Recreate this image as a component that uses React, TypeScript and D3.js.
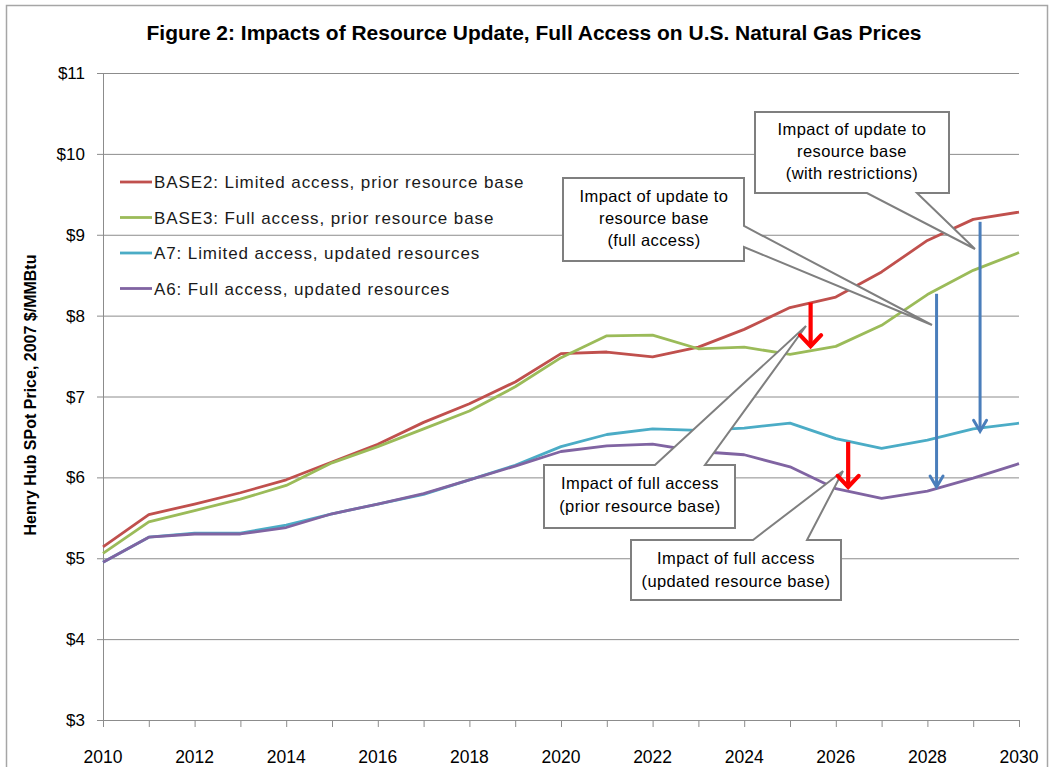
import * as d3 from 'd3';

// --- Data ---
const years = d3.range(2010, 2031);

const base2 = [5.14, 5.54, 5.67, 5.81, 5.97, 6.19, 6.41, 6.68, 6.91, 7.18, 7.53,
  7.55, 7.49, 7.61, 7.83, 8.10, 8.23, 8.54, 8.93, 9.19, 9.28];
const base3 = [5.06, 5.45, 5.59, 5.73, 5.90, 6.18, 6.38, 6.60, 6.82, 7.12, 7.48,
  7.75, 7.76, 7.59, 7.61, 7.52, 7.62, 7.88, 8.26, 8.56, 8.78];
const a7 = [4.95, 5.26, 5.31, 5.31, 5.41, 5.55, 5.67, 5.79, 5.97, 6.15, 6.38,
  6.53, 6.60, 6.58, 6.61, 6.67, 6.48, 6.36, 6.46, 6.60, 6.67];
const a6 = [4.95, 5.26, 5.30, 5.30, 5.38, 5.55, 5.67, 5.80, 5.97, 6.14, 6.32,
  6.39, 6.41, 6.32, 6.28, 6.13, 5.86, 5.74, 5.83, 5.99, 6.17];

const seriesNames = [
  'BASE2: Limited access, prior resource base',
  'BASE3: Full access, prior resource base',
  'A7: Limited access, updated resources',
  'A6: Full access, updated resources',
];
const seriesValues = [base2, base3, a7, a6];
const seriesColors = ['#c0504d', '#9bbb59', '#4bacc6', '#8064a2'];

const yTicks = [3, 4, 5, 6, 7, 8, 9, 10, 11];
const xLabelYears = d3.range(2010, 2031, 2);

// impact arrows: [year, from value, to value]
const redArrows = [
  [2025.45, 8.16, 7.61],
  [2026.27, 6.44, 5.87],
];
const blueArrows = [
  [2028.2, 8.27, 5.88],
  [2029.15, 9.16, 6.57],
];

// callouts: text lines
const calloutTexts = [
  ['Impact of update to', 'resource base', '(with restrictions)'],
  ['Impact of update to', 'resource base', '(full access)'],
  ['Impact of full access', '(prior resource base)'],
  ['Impact of full access', '(updated resource base)'],
];

const W = 1051;
const H = 767;
const FONT = '"Liberation Sans", Arial, sans-serif';
const NARROW = '"Liberation Sans Narrow", "Liberation Sans", Arial, sans-serif';

const App = () => {
  const x = d3.scaleLinear().domain([2010, 2030]).range([103, 1019]);
  const y = d3.scaleLinear().domain([3, 11]).range([720, 73]);

  const line = d3.line<[number, number]>()
    .x(d => x(d[0]))
    .y(d => y(d[1]));

  // callout outlines (box + wedge), pixel layout
  const callouts = [
    { pts: [[755, 112], [949, 112], [949, 193], [917, 193], [975, 249], [867, 193], [755, 193]], cx: 852, top: 135, dy: 22 },
    { pts: [[563, 178], [744, 178], [744, 226], [932, 325], [744, 247], [744, 261], [563, 261]], cx: 654, top: 202, dy: 22 },
    { pts: [[544, 465], [655, 465], [806, 326], [705, 465], [735, 465], [735, 528], [544, 528]], cx: 640, top: 489, dy: 23 },
    { pts: [[631, 540], [753, 540], [843, 471], [807, 540], [841, 540], [841, 600], [631, 600]], cx: 736, top: 564, dy: 23 },
  ];

  return (
    <svg width={W} height={H} style={{ position: 'absolute', left: 0, top: 0, background: '#fff' }}>
      <rect x={6.5} y={5.5} width={1041} height={775} fill="#fff" stroke="#a6a6a6" strokeWidth={1.5} />

      <text x={534} y={40} textAnchor="middle" fontFamily={NARROW} fontWeight="bold" fontSize={21}
        textLength={775} lengthAdjust="spacingAndGlyphs" fill="#000">
        Figure 2: Impacts of Resource Update, Full Access on U.S. Natural Gas Prices
      </text>

      {/* grid + y axis */}
      {yTicks.map(t => (
        <g key={t}>
          <line x1={97} x2={1019} y1={y(t) + 0.5} y2={y(t) + 0.5} stroke="#8c8c8c" strokeWidth={1} />
          <text x={85} y={y(t) + 6} textAnchor="end" fontFamily={FONT} fontSize={17} fill="#000">${t}</text>
        </g>
      ))}
      <line x1={103.5} x2={103.5} y1={y(11)} y2={y(3)} stroke="#8c8c8c" strokeWidth={1} />
      {years.map(yr => (
        <line key={yr} x1={x(yr) + 0.5} x2={x(yr) + 0.5} y1={720} y2={727} stroke="#8c8c8c" strokeWidth={1} />
      ))}
      {xLabelYears.map(yr => (
        <text key={yr} x={x(yr)} y={763} textAnchor="middle" fontFamily={FONT} fontSize={17.5} fill="#000">{yr}</text>
      ))}

      <text transform={`translate(36,${395}) rotate(-90)`} textAnchor="middle" fontFamily={NARROW}
        fontWeight="bold" fontSize={16} fill="#000">
        Henry Hub SPot Price, 2007 $/MMBtu
      </text>

      {/* series */}
      {seriesValues.map((vals, i) => (
        <path key={i} d={line(years.map((yr, j) => [yr, vals[j]] as [number, number])) || ''}
          fill="none" stroke={seriesColors[i]} strokeWidth={2.8} strokeLinejoin="round" />
      ))}

      {/* legend */}
      {seriesNames.map((name, i) => (
        <g key={name} transform={`translate(120,${182 + i * 35.5})`}>
          <line x1={0} x2={32} y1={0} y2={0} stroke={seriesColors[i]} strokeWidth={2.8} />
          <text x={34} y={6} fontFamily={FONT} fontSize={17} letterSpacing={0.9} fill="#1a1a1a">{name}</text>
        </g>
      ))}

      {/* callouts */}
      {callouts.map((c, i) => (
        <g key={i}>
          <path d={'M' + c.pts.map(p => p.join(',')).join('L') + 'Z'} fill="#fff" stroke="#7f7f7f" strokeWidth={2} />
          {calloutTexts[i].map((t, j) => (
            <text key={j} x={c.cx} y={c.top + j * c.dy} textAnchor="middle" fontFamily={FONT} fontSize={16.5}
              letterSpacing={0.4} fill="#000">{t}</text>
          ))}
        </g>
      ))}

      {/* impact arrows */}
      {redArrows.map(([yr, v0, v1], i) => {
        const ax = x(yr), y0 = y(v0), y1 = y(v1);
        return (
          <g key={'r' + i} stroke="#ff0000" strokeWidth={4.2} fill="none">
            <line x1={ax} x2={ax} y1={y0} y2={y1 - 2} />
            <path d={`M${ax - 10.5},${y1 - 12}L${ax},${y1 - 1}L${ax + 10.5},${y1 - 12}`} strokeLinecap="round" />
          </g>
        );
      })}
      {blueArrows.map(([yr, v0, v1], i) => {
        const ax = x(yr), y0 = y(v0), y1 = y(v1);
        return (
          <g key={'b' + i} stroke="#4a7ebb" strokeWidth={3} fill="none">
            <line x1={ax} x2={ax} y1={y0} y2={y1 - 1} />
            <path d={`M${ax - 6.5},${y1 - 11}L${ax},${y1}L${ax + 6.5},${y1 - 11}`} strokeLinecap="round" />
          </g>
        );
      })}
    </svg>
  );
};

export default App;
